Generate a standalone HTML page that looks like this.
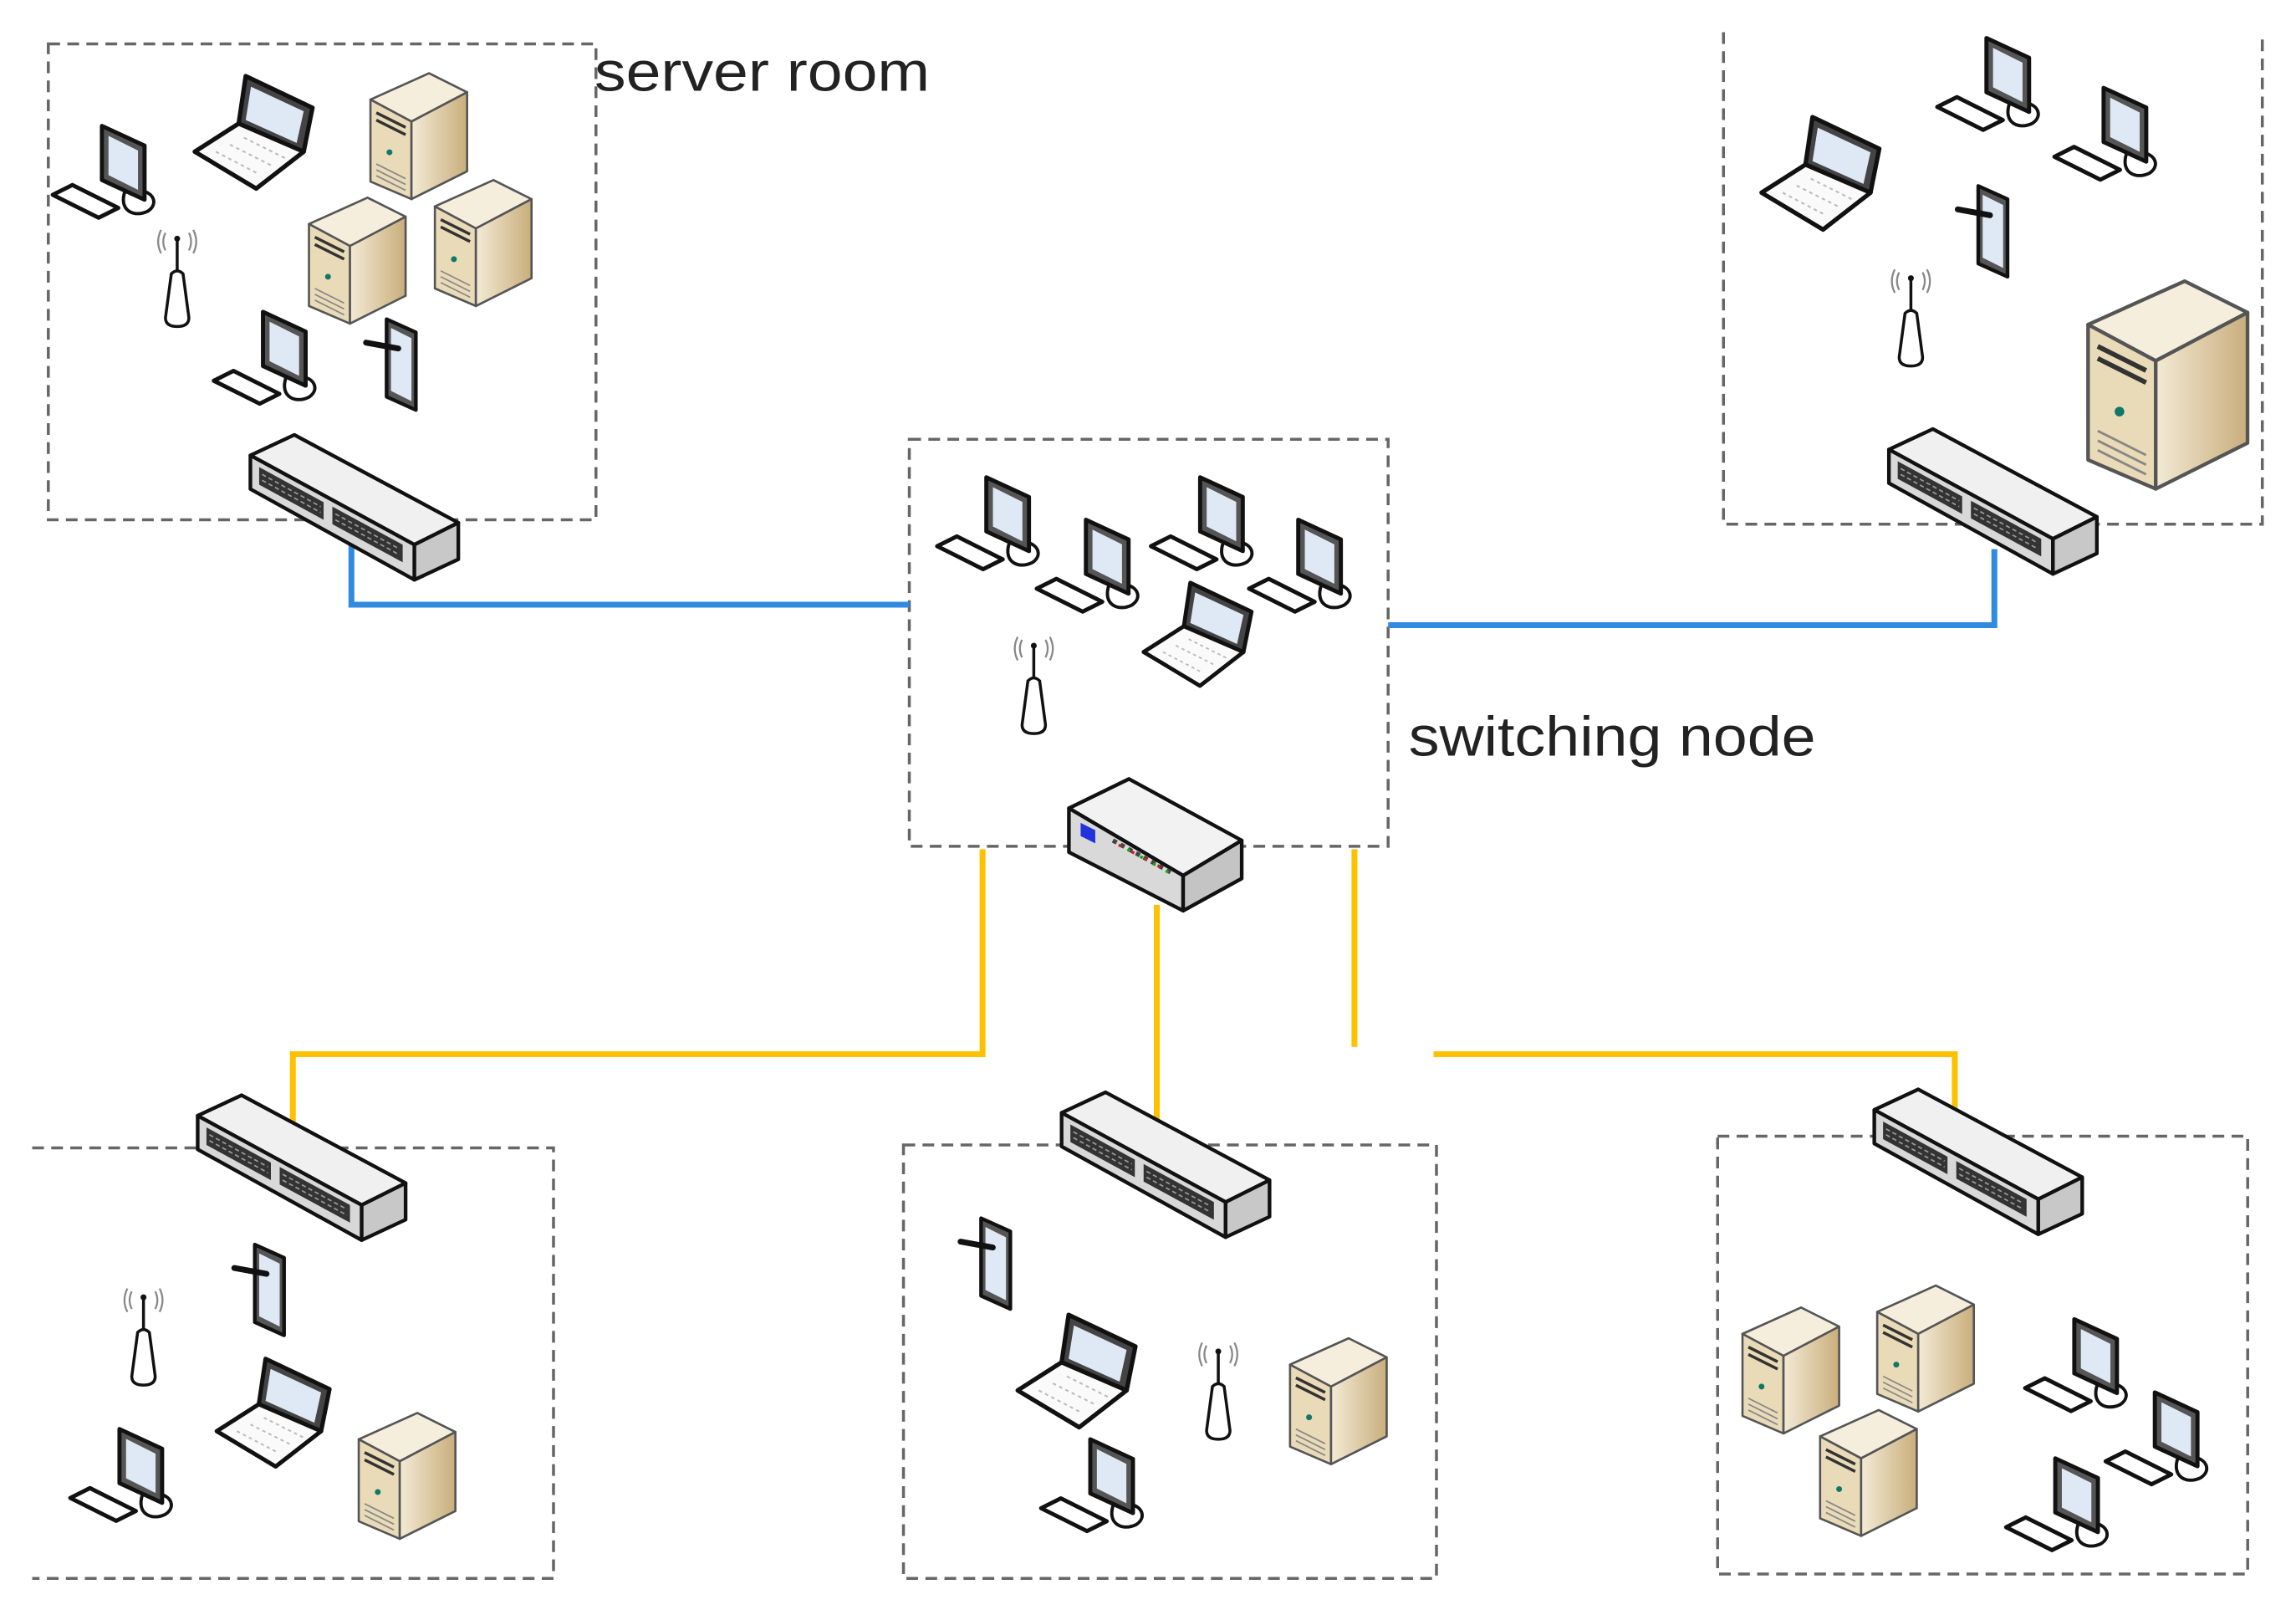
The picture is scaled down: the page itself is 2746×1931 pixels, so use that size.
<!DOCTYPE html>
<html><head><meta charset="utf-8"><style>
html,body{margin:0;padding:0;background:#fff;}
svg{display:block;}
</style></head><body>
<svg width="2746" height="1931" viewBox="0 0 1568 1103" preserveAspectRatio="none" xmlns="http://www.w3.org/2000/svg">
<defs>
<linearGradient id="sv" x1="0" y1="0" x2="1" y2="0"><stop offset="0" stop-color="#f3ead5"/><stop offset="1" stop-color="#c9ae7c"/></linearGradient>
<g id="switch">
 <polygon points="0,14 30,0 142,60 112,75" fill="#f0f0f0" stroke="#111" stroke-width="2.5" stroke-linejoin="round"/>
 <polygon points="0,14 112,75 112,99 0,37" fill="#d8d8d8" stroke="#111" stroke-width="2.5" stroke-linejoin="round"/>
 <polygon points="112,75 142,60 142,85 112,99" fill="#c8c8c8" stroke="#111" stroke-width="2.5" stroke-linejoin="round"/>
 <polygon points="6,22 50,46 50,58 6,34" fill="#333"/>
 <polygon points="56,49 104,75 104,87 56,61" fill="#333"/>
 <path d="M8,27 L48,49 M8,31 L48,53 M58,54 L102,78 M58,58 L102,82" stroke="#999" stroke-width="1" stroke-dasharray="3 2"/>
</g>
<g id="server">
 <polygon points="0,18 40,0 66,13 28,33" fill="#f5eedd" stroke="#555" stroke-width="1.5" stroke-linejoin="round"/>
 <polygon points="0,18 28,33 28,86 0,74" fill="#eadbb8" stroke="#555" stroke-width="1.5" stroke-linejoin="round"/>
 <polygon points="28,33 66,13 66,67 28,86" fill="url(#sv)" stroke="#555" stroke-width="1.5" stroke-linejoin="round"/>
 <path d="M4,27 L24,37 M4,32 L24,42" stroke="#333" stroke-width="2"/>
 <circle cx="13" cy="54" r="2" fill="#176"/>
 <path d="M4,62 L24,72 M4,66 L24,76 M4,70 L24,80" stroke="#888" stroke-width="1"/>
</g>
<g id="monitor">
 <polygon points="30,0 56,12 56,45 30,33" fill="#555" stroke="#111" stroke-width="2.5" stroke-linejoin="round"/>
 <polygon points="34,6 52,15 52,39 34,30" fill="#dfe9f5"/>
 <path d="M44,40 C40,52 50,56 58,52 C64,48 62,42 56,40" fill="none" stroke="#111" stroke-width="2"/>
 <polygon points="0,42 12,36 40,50 28,56" fill="#fff" stroke="#111" stroke-width="2.5" stroke-linejoin="round"/>
</g>
<g id="laptop">
 <polygon points="29,0 67,18 62,43 25,27" fill="#444" stroke="#111" stroke-width="2.5" stroke-linejoin="round"/>
 <polygon points="32,6 62,20 58,38 29,25" fill="#dfe9f5"/>
 <polygon points="0,43 25,27 62,43 35,64" fill="#fafafa" stroke="#111" stroke-width="2.5" stroke-linejoin="round"/>
 <path d="M12,43 L35,55 M20,39 L44,51 M28,35 L52,47" stroke="#bbb" stroke-width="1" stroke-dasharray="2 2"/>
</g>
<g id="antenna">
 <path d="M8,4 Q5,10 8,16 M5,2 Q1,10 5,18 M24,4 Q27,10 24,16 M27,2 Q31,10 27,18" fill="none" stroke="#888" stroke-width="1.3"/>
 <line x1="16" y1="8" x2="16" y2="32" stroke="#111" stroke-width="2"/>
 <circle cx="16" cy="8" r="2" fill="#111"/>
 <path d="M12,32 Q16,28 20,32 L24,62 Q24,68 16,68 Q8,68 8,62 Z" fill="#fff" stroke="#111" stroke-width="2"/>
</g>
<g id="tablet">
 <polygon points="14,2 34,11 34,64 14,55" fill="#555" stroke="#111" stroke-width="2.5" stroke-linejoin="round"/>
 <polygon points="17,8 31,15 31,58 17,51" fill="#dfe9f5"/>
 <path d="M0,18 L22,22" stroke="#111" stroke-width="4" stroke-linecap="round"/>
</g>
<g id="router">
 <polygon points="0,20 41,0 118,42 78,66" fill="#f2f2f2" stroke="#111" stroke-width="2.5" stroke-linejoin="round"/>
 <polygon points="0,20 78,66 78,90 0,50" fill="#d9d9d9" stroke="#111" stroke-width="2.5" stroke-linejoin="round"/>
 <polygon points="78,66 118,42 118,68 78,90" fill="#c4c4c4" stroke="#111" stroke-width="2.5" stroke-linejoin="round"/>
 <polygon points="8,30 18,35 18,44 8,39" fill="#2233dd"/>
 <path d="M30,42 L70,64" stroke="#444" stroke-width="3" stroke-dasharray="3 3"/>
 <path d="M34,45 L66,62" stroke="#c22" stroke-width="2" stroke-dasharray="2 8"/>
 <path d="M40,48 L72,66" stroke="#1a1" stroke-width="2" stroke-dasharray="2 8"/>
</g>
</defs>

<g fill="none" stroke="#666" stroke-width="2" stroke-dasharray="8 5">
 <rect x="33" y="30" width="374" height="325"/>
 <path d="M1177,22 L1177,358 L1545,358 L1545,22"/>
 <rect x="621" y="300" width="327" height="278"/>
 <path d="M22,784 L378,784 L378,1078 L22,1078"/>
 <rect x="617" y="782" width="364" height="296"/>
 <rect x="1173" y="776" width="362" height="299"/>
</g>

<g fill="none" stroke-width="4">
 <path d="M240,372 L240,413 L621,413" stroke="#2f8ae0"/>
 <path d="M948,427 L1362,427 L1362,375" stroke="#2f8ae0"/>
 <path d="M671,580 L671,720 L200,720 L200,768" stroke="#ffc000"/>
 <path d="M790,618 L790,768" stroke="#ffc000"/>
 <path d="M925,580 L925,715" stroke="#ffc000"/>
 <path d="M979,720 L1335,720 L1335,762" stroke="#ffc000"/>
</g>

<use href="#monitor" transform="translate(36,86) scale(1.12)"/>
<use href="#laptop" transform="translate(133,52) scale(1.2)"/>
<use href="#server" transform="translate(253,50)"/>
<use href="#server" transform="translate(211,135)"/>
<use href="#server" transform="translate(297,123)"/>
<use href="#antenna" transform="translate(105,155)"/>
<use href="#monitor" transform="translate(146,213) scale(1.12)"/>
<use href="#tablet" transform="translate(250,216)"/>
<use href="#switch" transform="translate(171,297)"/>

<use href="#laptop" transform="translate(1203,80) scale(1.2)"/>
<use href="#monitor" transform="translate(1323,26) scale(1.12)"/>
<use href="#monitor" transform="translate(1403,60) scale(1.12)"/>
<use href="#tablet" transform="translate(1337,125)"/>
<use href="#antenna" transform="translate(1289,182)"/>
<use href="#server" transform="translate(1426,192) scale(1.65)"/>
<use href="#switch" transform="translate(1290,293)"/>

<use href="#monitor" transform="translate(640,326) scale(1.12)"/>
<use href="#monitor" transform="translate(708,355) scale(1.12)"/>
<use href="#monitor" transform="translate(786,326) scale(1.12)"/>
<use href="#monitor" transform="translate(853,355) scale(1.12)"/>
<use href="#laptop" transform="translate(781,398) scale(1.1)"/>
<use href="#antenna" transform="translate(690,433)"/>
<use href="#router" transform="translate(730,532)"/>

<use href="#switch" transform="translate(135,748)"/>
<use href="#antenna" transform="translate(82,878)"/>
<use href="#tablet" transform="translate(160,848)"/>
<use href="#laptop" transform="translate(148,928) scale(1.15)"/>
<use href="#monitor" transform="translate(48,976) scale(1.12)"/>
<use href="#server" transform="translate(245,965)"/>

<use href="#switch" transform="translate(725,746)"/>
<use href="#tablet" transform="translate(656,830)"/>
<use href="#laptop" transform="translate(695,898) scale(1.2)"/>
<use href="#antenna" transform="translate(816,915)"/>
<use href="#server" transform="translate(881,914)"/>
<use href="#monitor" transform="translate(711,983) scale(1.12)"/>

<use href="#switch" transform="translate(1280,744)"/>
<use href="#server" transform="translate(1190,893)"/>
<use href="#server" transform="translate(1282,878)"/>
<use href="#server" transform="translate(1243,963)"/>
<use href="#monitor" transform="translate(1383,901) scale(1.12)"/>
<use href="#monitor" transform="translate(1438,951) scale(1.12)"/>
<use href="#monitor" transform="translate(1370,996) scale(1.12)"/>

<text x="406" y="62" font-family="Liberation Sans, sans-serif" font-size="38" fill="#222" textLength="229" lengthAdjust="spacingAndGlyphs">server room</text>
<text x="962" y="516" font-family="Liberation Sans, sans-serif" font-size="38" fill="#222" textLength="278" lengthAdjust="spacingAndGlyphs">switching node</text>
</svg>
</body></html>
